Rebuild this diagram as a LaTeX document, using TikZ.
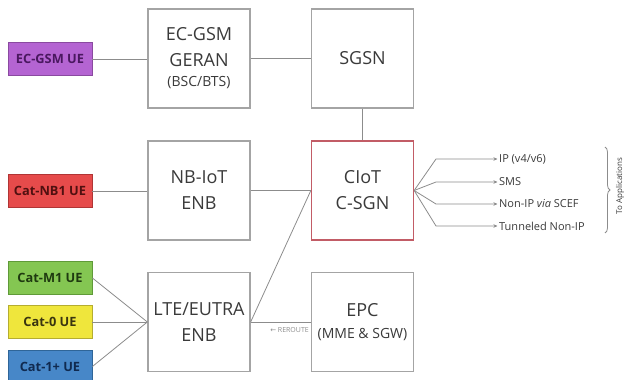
\documentclass[tikz,border=0pt]{standalone}
\usepackage{fontspec}
\setmainfont{Open Sans}
\newfontfamily\dvfont{DejaVu Sans}
\usetikzlibrary{decorations.pathreplacing,arrows.meta}
\definecolor{boxgray}{HTML}{A4A4A4}
\definecolor{linegray}{HTML}{8C8C8C}
\definecolor{txtgray}{HTML}{3A3A3A}
\definecolor{ciotred}{HTML}{C25C66}
\definecolor{purfill}{HTML}{B464D2}
\definecolor{purdraw}{HTML}{8A4AA0}
\definecolor{purtxt}{HTML}{4A1860}
\definecolor{redfill}{HTML}{E64B4B}
\definecolor{reddraw}{HTML}{B03535}
\definecolor{redtxt}{HTML}{501010}
\definecolor{grnfill}{HTML}{84C652}
\definecolor{grndraw}{HTML}{5F9A38}
\definecolor{grntxt}{HTML}{1F3A10}
\definecolor{yelfill}{HTML}{EFE63C}
\definecolor{yeldraw}{HTML}{B5AD30}
\definecolor{yeltxt}{HTML}{3A3510}
\definecolor{blufill}{HTML}{4787C8}
\definecolor{bludraw}{HTML}{2F6598}
\definecolor{blutxt}{HTML}{102A50}
\newcommand{\subsize}{\fontsize{14}{16}\selectfont}
\tikzset{
  netbox/.style={draw=boxgray, line width=1.3pt, fill=white, minimum width=102pt, minimum height=99pt,
    align=center, text=txtgray, font=\fontsize{18}{26}\selectfont, inner sep=0pt},
  uebox/.style={line width=0.8pt, minimum width=84pt, minimum height=33pt, inner sep=0pt,
    font=\bfseries\fontsize{12.8}{14}\selectfont},
  conn/.style={draw=linegray, line width=0.8pt},
  fanarrow/.style={draw=linegray, line width=0.8pt, -{Stealth[length=4pt,width=3.5pt]}},
  outlbl/.style={anchor=west, inner sep=0pt, text=txtgray, font=\fontsize{11}{13}\selectfont}
}
\begin{document}
\begin{tikzpicture}[x=1pt,y=-1pt]
\useasboundingbox (0,0) rectangle (625,380);
% network boxes
\node[netbox] (geran) at (199,58.5) {EC-GSM\\GERAN\\[-6pt]{\subsize (BSC/BTS)}};
\node[netbox] (sgsn) at (362.5,58.5) {SGSN};
\node[netbox] (nbiot) at (199,190.5) {NB-IoT\\ENB};
\node[netbox, draw=ciotred] (ciot) at (362.5,190.5) {CIoT\\C-SGN};
\node[netbox] (lte) at (199,322) {LTE/EUTRA\\ENB};
\node[netbox] (epc) at (362.5,322) {EPC\\[-4pt]{\subsize (MME \& SGW)}};
% UE boxes
\node[uebox, fill=purfill, draw=purdraw, text=purtxt] (ecue) at (50,59) {EC-GSM UE};
\node[uebox, fill=redfill, draw=reddraw, text=redtxt] (nbue) at (50,191) {Cat-NB1 UE};
\node[uebox, fill=grnfill, draw=grndraw, text=grntxt] (m1ue) at (50,278) {Cat-M1 UE};
\node[uebox, fill=yelfill, draw=yeldraw, text=yeltxt] (c0ue) at (50,322) {Cat-0 UE};
\node[uebox, fill=blufill, draw=bludraw, text=blutxt] (c1ue) at (50,366.5) {Cat-1+ UE};
% connectors
\draw[conn] (ecue.east) -- (geran.west |- ecue.east);
\draw[conn] (geran.east) -- (sgsn.west);
\draw[conn] (sgsn.south) -- (ciot.north);
\draw[conn] (nbue.east) -- (nbiot.west |- nbue.east);
\draw[conn] (nbiot.east) -- (ciot.west);
\draw[conn] (lte.east) -- (ciot.west);
\draw[conn] (m1ue.east) -- (lte.west);
\draw[conn] (c0ue.east) -- (lte.west);
\draw[conn] (c1ue.east) -- (lte.west);
\draw[conn] (lte.east) -- (epc.west);
\node[anchor=north east, inner sep=0pt, text=linegray, font=\fontsize{7}{8}\selectfont] (rr) at (309,327)
  {{\dvfont ←} REROUTE};
% outputs
\node[outlbl] (o1) at (499,159) {IP (v4/v6)};
\node[outlbl] (o2) at (499,182) {SMS};
\node[outlbl] (o3) at (499,204) {Non-IP \emph{via} SCEF};
\node[outlbl] (o4) at (499,226) {Tunneled Non-IP};
\coordinate (b1) at (436,159);
\coordinate (b2) at (436,182);
\coordinate (b3) at (436,204);
\coordinate (b4) at (436,226);
\draw[fanarrow] (ciot.east) -- (b1) -- ([xshift=-1.5pt]o1.west);
\draw[fanarrow] (ciot.east) -- (b2) -- ([xshift=-1.5pt]o2.west);
\draw[fanarrow] (ciot.east) -- (b3) -- ([xshift=-1.5pt]o3.west);
\draw[fanarrow] (ciot.east) -- (b4) -- ([xshift=-1.5pt]o4.west);
% brace
\coordinate (bt) at (605,147);
\coordinate (bb) at (605,233);
\draw[draw=linegray, line width=0.8pt, decorate, decoration={brace, amplitude=5pt}] (bt) -- (bb);
\node[rotate=90, text=txtgray, font=\fontsize{8}{9}\selectfont, inner sep=0pt] (app) at (620,186) {To Applications};
\end{tikzpicture}
\end{document}
